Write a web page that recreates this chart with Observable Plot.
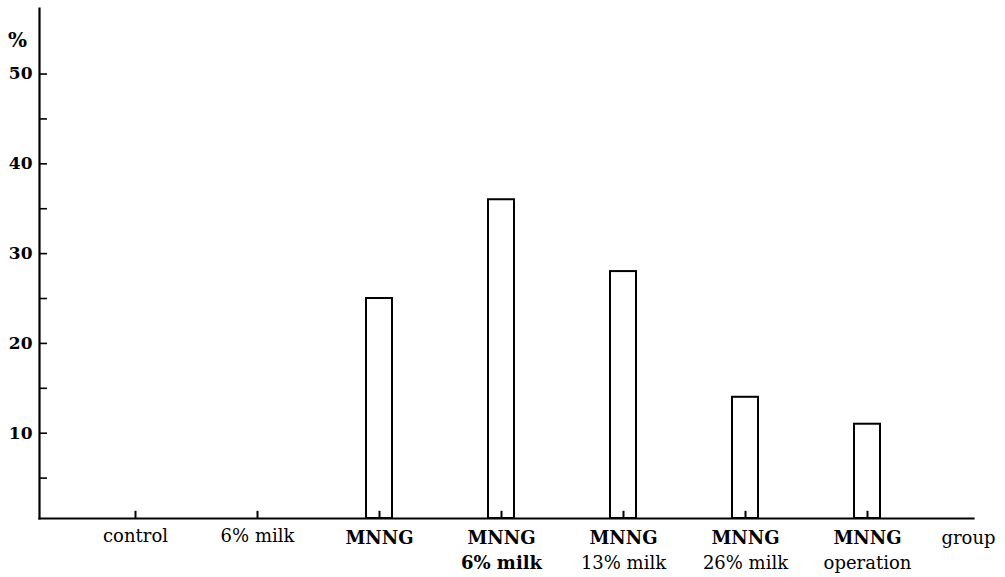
<!DOCTYPE html>
<html><head><meta charset="utf-8">
<script src="https://cdn.jsdelivr.net/npm/d3@7"></script>
<script src="https://cdn.jsdelivr.net/npm/@observablehq/plot@0.6"></script>
<style>body{margin:0;background:#fff}</style>
</head><body><div id="chart"></div>
<script>
const groups = ["control", "6% milk", "MNNG", "MNNG 6% milk", "MNNG 13% milk", "MNNG 26% milk", "MNNG operation"];
const line1 = ["control", "6% milk", "MNNG", "MNNG", "MNNG", "MNNG", "MNNG"];
const line2 = ["", "", "", "6% milk", "13% milk", "26% milk", "operation"];
const values = [0, 0, 25, 36, 28, 14, 11];
const yTicks = [10, 20, 30, 40, 50];
const yMinor = [5, 15, 25, 35, 45];
const bold1 = [false, false, true, true, true, true, true];
const bold2 = [false, false, false, true, false, false, false];

const data = groups.map((g, i) => ({group: g, l1: line1[i], l2: line2[i], value: values[i], b1: bold1[i], b2: bold2[i]}));
const yMin = 0.5, yMax = 57.3;
const font = "'DejaVu Serif', serif";

const chart = Plot.plot({
  width: 1005, height: 577,
  marginLeft: 39, marginRight: 32, marginTop: 8, marginBottom: 59,
  style: {fontFamily: font, background: "white", color: "black"},
  x: {type: "band", domain: groups, range: [121, 880.5], paddingInner: 0.787, paddingOuter: 0, axis: null},
  y: {domain: [yMin, yMax], axis: null},
  marks: [
    Plot.barY(data.filter(d => d.value > 0), {x: "group", y1: yMin, y2: "value", fill: "white", stroke: "black", strokeWidth: 2}),
    Plot.ruleX(groups, {x: d => d, y1: yMin, y2: yMin + 0.8, stroke: "black", strokeWidth: 2}),
    Plot.axisY({ticks: yTicks, tickSize: 8, dx: 8, tickFormat: () => "", strokeWidth: 1.6, label: null}),
    Plot.axisY({ticks: yMinor, tickSize: 8, dx: 8, tickFormat: () => "", strokeWidth: 1.6, label: null}),
    Plot.axisY({ticks: yTicks, tickSize: 0, tickPadding: 7, fontSize: 17, fontWeight: "bold", label: null}),
    Plot.frame({anchor: "left", strokeWidth: 2.2}),
    Plot.frame({anchor: "bottom", strokeWidth: 2.2}),
    Plot.text(data.filter(d => d.b1), {x: "group", y: yMin, text: "l1", dy: 20, fontSize: 18, fontWeight: "bold", lineAnchor: "middle"}),
    Plot.text(data.filter(d => !d.b1), {x: "group", y: yMin, text: "l1", dy: 18, fontSize: 18, lineAnchor: "middle"}),
    Plot.text(data.filter(d => d.b2), {x: "group", y: yMin, text: "l2", dy: 45, fontSize: 18, fontWeight: "bold", lineAnchor: "middle"}),
    Plot.text(data.filter(d => !d.b2), {x: "group", y: yMin, text: "l2", dy: 45, fontSize: 18, lineAnchor: "middle"}),
    Plot.text(["%"], {frameAnchor: "top-left", dx: -22, dy: 32, fontSize: 20, fontWeight: "bold", textAnchor: "middle", lineAnchor: "middle"}),
    Plot.text(["group"], {frameAnchor: "bottom-right", dx: -5, dy: 20, fontSize: 18, textAnchor: "middle", lineAnchor: "middle"})
  ]
});
document.getElementById("chart").append(chart);
</script>
</body></html>
